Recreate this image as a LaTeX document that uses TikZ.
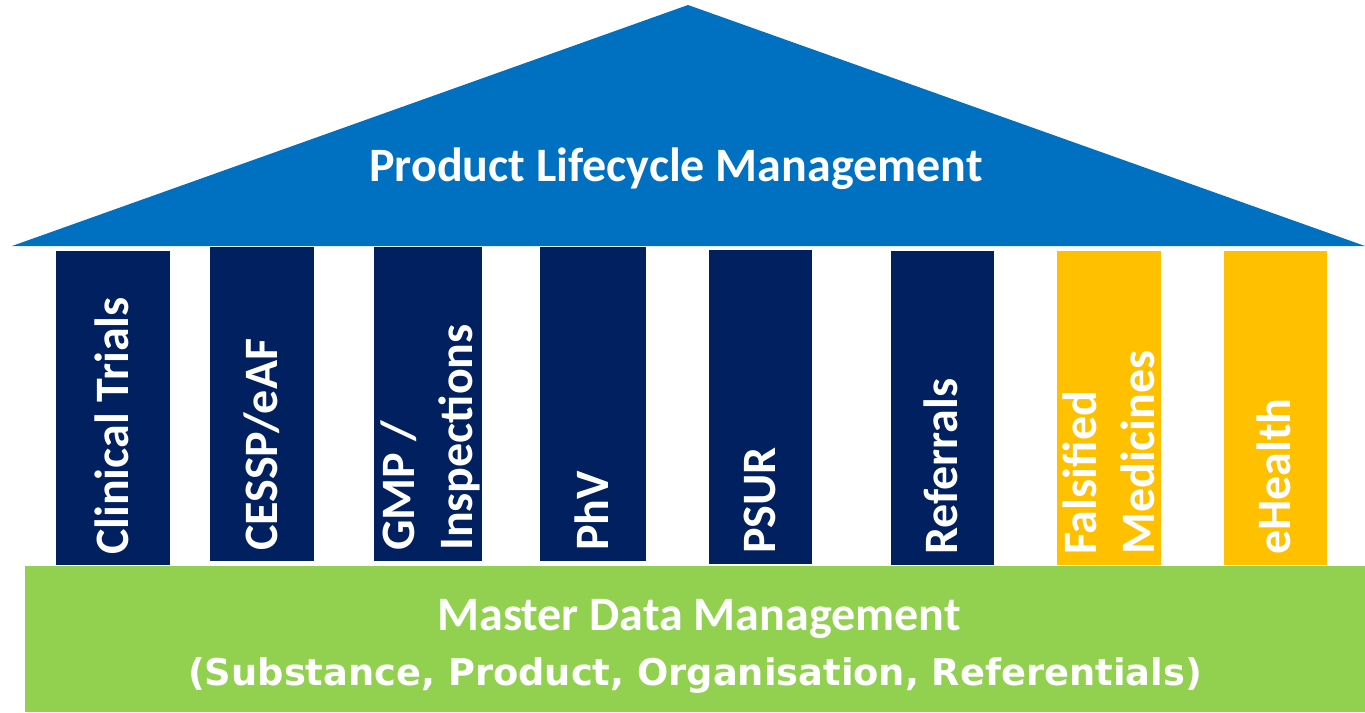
\documentclass[tikz,border=0pt]{standalone}
\usepackage{fontspec}
\setmainfont{Carlito}
\newfontfamily\widefont{DejaVu Sans}
\usepackage{tikz}
\definecolor{roofblue}{HTML}{0070C0}
\definecolor{pillarnavy}{HTML}{002060}
\definecolor{pillargold}{HTML}{FFC000}
\definecolor{basegreen}{HTML}{92D050}
\tikzset{
  pillartext/.style={rotate=90, anchor=west, text=white, inner sep=0pt,
    font=\bfseries\fontsize{48}{58}\selectfont,
    text height=31pt, text depth=0pt},
  bigtext/.style={anchor=base, text=white, inner sep=0pt,
    font=\bfseries\fontsize{48}{58}\selectfont}
}

\begin{document}
\begin{tikzpicture}[x=1pt,y=-1pt]
              \useasboundingbox (0,0) rectangle (1365,712);

              % pillars
              \fill[pillarnavy] (56,251) rectangle (170,565);
              \fill[pillarnavy] (210,247) rectangle (314,561);
              \fill[pillarnavy] (374,247) rectangle (482,561);
              \fill[pillarnavy] (540,247) rectangle (646,561);
              \fill[pillarnavy] (709,250) rectangle (812,564);
              \fill[pillarnavy] (891,251) rectangle (994,565);
              \fill[pillargold] (1057,251) rectangle (1161,565);
              \fill[pillargold] (1224,251) rectangle (1327,565);

                \node[pillartext] (trials) at (113,555) {Clinical Trials};
                \node[pillartext] (cessp) at (262,551) {CESSP/eAF};
                \node[pillartext] (gmp) at (399,551) {GMP /};
                \node[pillartext] (inspections) at (457,551) {Inspections};
                \node[pillartext] (phv) at (593,551) {PhV};
                \node[pillartext] (psur) at (760,554) {PSUR};
                \node[pillartext] (referrals) at (942,555) {Referrals};
                \node[pillartext] (falsified) at (1081,555) {Falsified};
                \node[pillartext] (medicines) at (1139,555) {Medicines};
                \node[pillartext] (ehealth) at (1275,555) {eHealth};

              % roof
              \fill[roofblue] (12,246) -- (688,5) -- (1365,246) -- cycle;
                \node[bigtext] (plm) at (676,181) {Product Lifecycle Management};

              % foundation
              \fill[basegreen] (25,566) rectangle (1365,712);
                \node[bigtext] (mdm) at (699,630) {Master Data Management};
                \node[anchor=base, text=white, inner sep=0pt,
                  font=\widefont\bfseries\fontsize{36.8}{44}\selectfont] (scope)
                  at (695,685) {(Substance, Product, Organisation, Referentials)};

            \end{tikzpicture}
\end{document}
